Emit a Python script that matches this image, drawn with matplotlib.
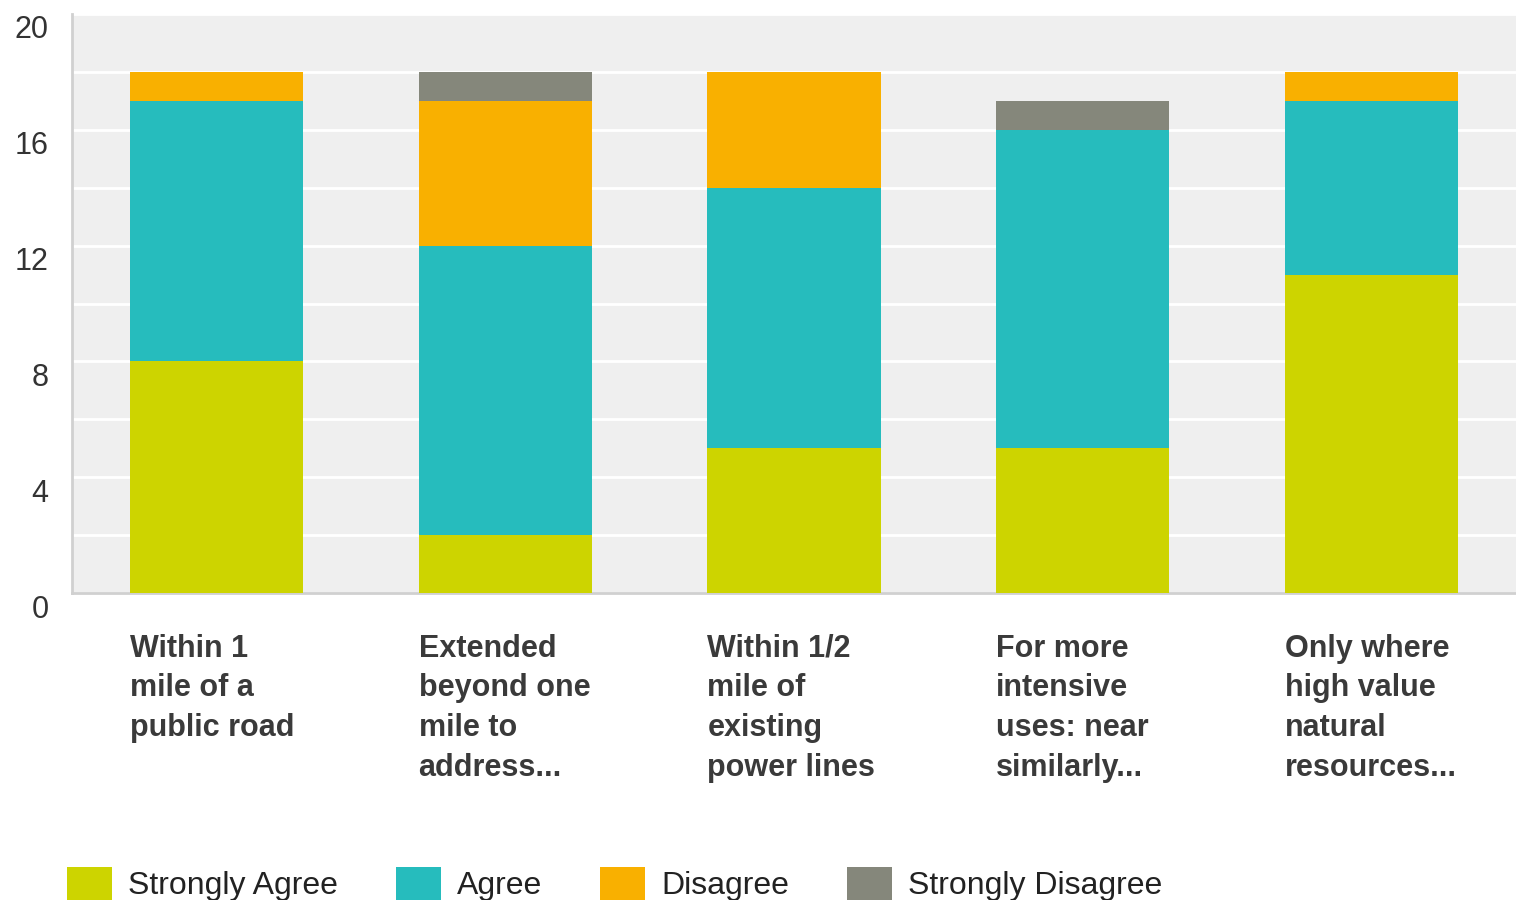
import matplotlib.pyplot as plt
import matplotlib.transforms as mtransforms
from matplotlib.patches import Patch
import numpy as np

plt.rcParams['font.family'] = ['Liberation Sans', 'DejaVu Sans']

categories = ["Within 1\nmile of a\npublic road",
              "Extended\nbeyond one\nmile to\naddress...",
              "Within 1/2\nmile of\nexisting\npower lines",
              "For more\nintensive\nuses: near\nsimilarly...",
              "Only where\nhigh value\nnatural\nresources..."]
series_names = ["Strongly Agree", "Agree", "Disagree", "Strongly Disagree"]
strongly_agree = [8, 2, 5, 5, 11]
agree = [9, 10, 9, 11, 6]
disagree = [1, 5, 4, 0, 1]
strongly_disagree = [0, 1, 0, 1, 0]
colors = ["#cdd400", "#26bcbd", "#f9b000", "#85877b"]

fig = plt.figure(figsize=(15.16, 9), dpi=100)
ax = fig.add_axes([72/1516, 307/900, 1 - 72/1516, 579/900])
ax.set_facecolor("#efefef")

x = np.arange(len(categories))
bottom = np.zeros(len(categories))
for vals, name, c in zip([strongly_agree, agree, disagree, strongly_disagree], series_names, colors):
    ax.bar(x, vals, width=0.6, bottom=bottom, color=c, label=name, zorder=3)
    bottom += np.array(vals)

ax.set_xlim(-0.5, len(categories) - 0.5)
ax.set_ylim(0, 20)
ax.set_yticks([0, 4, 8, 12, 16, 20])
ax.set_yticks([2, 6, 10, 14, 18], minor=True)
ax.grid(axis='y', which='both', color='white', linewidth=2, zorder=1)
ax.tick_params(axis='y', which='both', length=0, pad=17, labelsize=22, labelcolor='#333333')
ax.set_xticks([])
for lab in ax.get_yticklabels():
    lab.set_transform(lab.get_transform() + mtransforms.ScaledTranslation(0, -13/100, fig.dpi_scale_trans))

for s in ['top', 'right']:
    ax.spines[s].set_visible(False)
for s in ['left', 'bottom']:
    ax.spines[s].set_color('#d0d0d0')
    ax.spines[s].set_linewidth(2)

trans = mtransforms.blended_transform_factory(ax.transData, ax.transAxes)
for i, cat in enumerate(categories):
    ax.text(i - 0.3, -0.07, cat, transform=trans, ha='left', va='top',
            fontsize=22, fontweight='bold', color='#3a3a3a', linespacing=1.42)

handles = [Patch(facecolor=c, edgecolor='none') for c in colors]
fig.legend(handles, series_names, loc='lower left', bbox_to_anchor=(0.0255, -0.033),
           ncol=4, frameon=False, fontsize=23, handlelength=1.4, handleheight=1.2,
           handletextpad=0.5, columnspacing=1.82, labelcolor='#222222')

fig.savefig("out.png", dpi=100)
